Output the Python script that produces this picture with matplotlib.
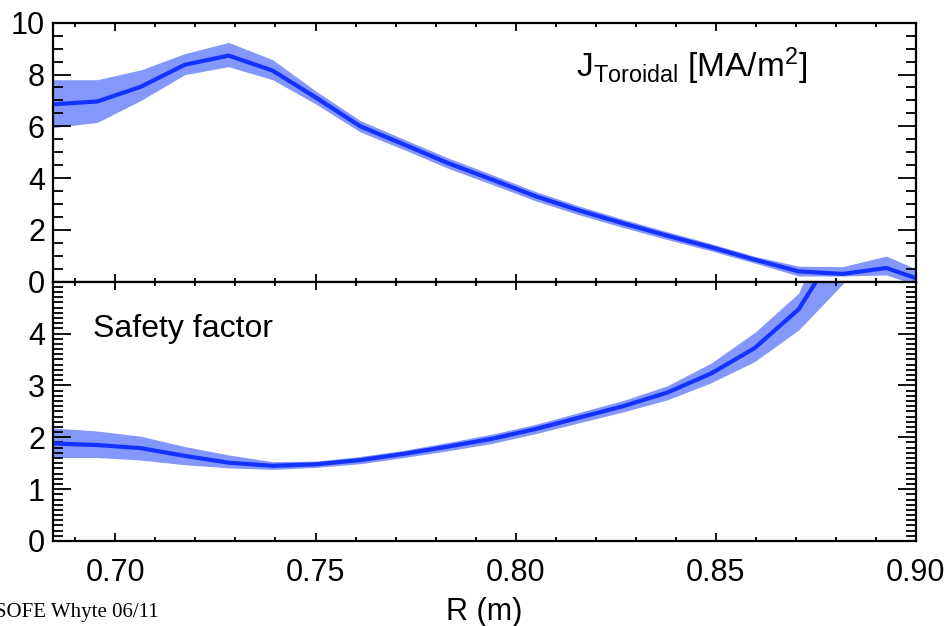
import matplotlib
matplotlib.use("Agg")
import matplotlib.pyplot as plt
from matplotlib.ticker import MultipleLocator

# Major radius grid of the reconstruction (m)
radius = [0.6845, 0.6955, 0.7064, 0.7174, 0.7283, 0.7393, 0.7502, 0.7612,
          0.7721, 0.7831, 0.7940, 0.8050, 0.8159, 0.8269, 0.8378, 0.8488,
          0.8597, 0.8707, 0.8816, 0.8926, 0.9035]

# Toroidal current density [MA/m^2] with its lower / upper band
j_tor = [6.85, 6.96, 7.53, 8.38, 8.73, 8.15, 7.10, 6.00, 5.30, 4.58, 3.95,
         3.30, 2.75, 2.25, 1.78, 1.33, 0.85, 0.40, 0.30, 0.53, -0.05]
j_low = [5.95, 6.15, 7.00, 8.00, 8.30, 7.80, 6.85, 5.78, 5.10, 4.38, 3.76,
         3.12, 2.58, 2.09, 1.63, 1.19, 0.72, 0.22, 0.22, 0.26, -0.30]
j_high = [7.80, 7.80, 8.18, 8.81, 9.24, 8.57, 7.35, 6.22, 5.50, 4.78, 4.14,
          3.48, 2.92, 2.41, 1.93, 1.47, 0.98, 0.60, 0.58, 0.99, 0.25]

# Safety factor q with its lower / upper band
q = [1.88, 1.85, 1.79, 1.64, 1.51, 1.45, 1.48, 1.56, 1.68, 1.82, 1.97,
     2.16, 2.38, 2.60, 2.86, 3.23, 3.72, 4.47, 5.80, 7.00, 8.00]
q_low = [1.61, 1.61, 1.56, 1.47, 1.41, 1.38, 1.42, 1.49, 1.61, 1.74, 1.88,
         2.07, 2.28, 2.49, 2.72, 3.05, 3.46, 4.07, 4.95, 5.90, 6.80]
q_high = [2.18, 2.12, 2.02, 1.82, 1.66, 1.53, 1.54, 1.63, 1.75, 1.90, 2.06,
          2.25, 2.48, 2.71, 2.99, 3.43, 4.02, 4.78, 6.70, 8.00, 9.00]

j_ticks = [0, 2, 4, 6, 8, 10]
q_ticks = [0, 1, 2, 3, 4]
r_ticks = [0.70, 0.75, 0.80, 0.85, 0.90]

LINE = "#1432ff"
BAND = "#8497fb"

plt.rcParams["font.family"] = ["Liberation Sans", "DejaVu Sans"]
plt.rcParams["mathtext.fontset"] = "custom"
plt.rcParams["mathtext.rm"] = "Liberation Sans"
plt.rcParams["mathtext.it"] = "Liberation Sans:italic"

fig = plt.figure(figsize=(9.5, 6.26), dpi=100)
ax_j = fig.add_axes([0.0561, 0.55, 0.9081, 0.4137])
ax_q = fig.add_axes([0.0561, 0.1358, 0.9081, 0.4142])


def style_axis(ax, y_minor, x_labels):
    """
        Inward ticks on all four sides, IDL look.
    """
    ax.set_xlim(0.6845, 0.90)
    ax.set_xticks(r_ticks)
    ax.xaxis.set_minor_locator(MultipleLocator(0.01))
    ax.yaxis.set_minor_locator(MultipleLocator(y_minor))
    ax.tick_params(which="both", direction="in", top=True, right=True,
                   width=1.3, labelsize=22)
    ax.tick_params(axis="x", which="major", length=5.5, pad=12)
    ax.tick_params(axis="x", which="minor", length=3)
    ax.tick_params(axis="y", which="major", length=13, pad=6)
    ax.tick_params(axis="y", which="minor", length=7)
    if x_labels:
        ax.set_xticklabels(["%.2f" % t for t in r_ticks])
    else:
        ax.set_xticklabels([])
    for spine in ax.spines.values():
        spine.set_linewidth(1.6)


# Top panel: toroidal current density
ax_j.fill_between(radius, j_low, j_high, color=BAND, linewidth=0)
ax_j.plot(radius, j_tor, color=LINE, lw=3)
ax_j.set_ylim(0, 10)
ax_j.set_yticks(j_ticks)
style_axis(ax_j, 0.5, False)
ax_j.text(0.606, 0.79, r"J$_{\rm Toroidal}$ [MA/m$^{\rm 2}$]",
          transform=ax_j.transAxes, fontsize=24, va="baseline")

# Bottom panel: safety factor
ax_q.fill_between(radius, q_low, q_high, color=BAND, linewidth=0)
ax_q.plot(radius, q, color=LINE, lw=3)
ax_q.set_ylim(0, 5)
ax_q.set_yticks(q_ticks)
style_axis(ax_q, 0.1, True)
ax_q.text(0.0464, 0.788, "Safety factor", transform=ax_q.transAxes,
          fontsize=23, va="baseline")

fig.text(0.51, 0.0096, "R (m)", ha="center", va="baseline", fontsize=22)
fig.text(-0.005, 0.0144, "SOFE Whyte 06/11", ha="left", va="baseline",
         fontsize=15, family="Liberation Serif")

fig.savefig("out.png", dpi=100)
